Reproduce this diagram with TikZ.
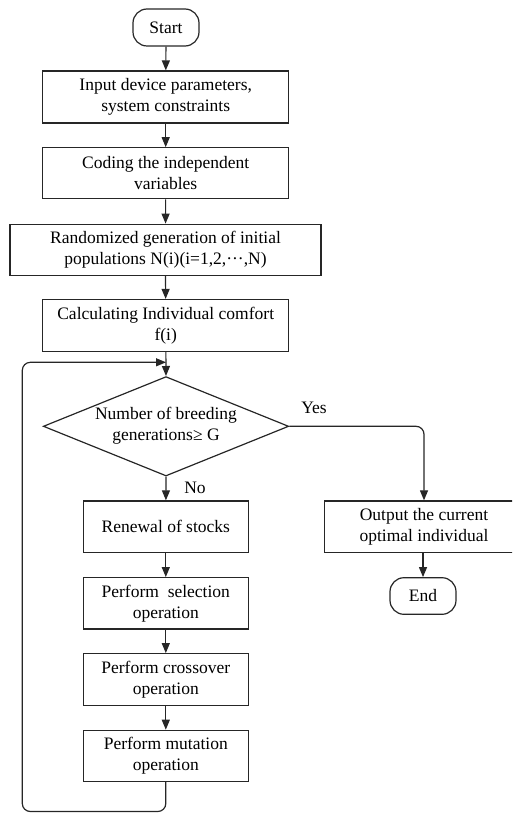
\documentclass[tikz,border=0pt]{standalone}
\usepackage{fontspec}
\setmainfont{Liberation Serif}
\usetikzlibrary{shapes.geometric,arrows.meta}
\tikzset{
  base/.style={draw=black!85, line width=1.2pt, font=\fontsize{17.5}{21}\selectfont, align=center, inner sep=0pt},
  box/.style={base, rectangle, minimum width=246pt, minimum height=52pt},
  term/.style={base, rectangle, rounded corners=14pt, minimum width=66pt, minimum height=37pt},
  conn/.style={draw=black!85, line width=1.2pt},
  arr/.style={conn, -{Triangle[length=10pt,width=8pt]}},
  lbl/.style={font=\fontsize{17.5}{21}\selectfont, inner sep=0pt}
}
\begin{document}
\begin{tikzpicture}[x=1pt,y=-1pt]
\clip (0,0) rectangle (512,813);
\useasboundingbox (0,0) rectangle (512,813);
\node[term] (start) at (166,27.5) {Start};
\node[box] (b1) at (165.7,97) {Input device parameters,\\system constraints};
\node[box, minimum height=51pt] (b2) at (165.7,173.3) {Coding the independent\\variables};
\node[box, minimum width=311pt, minimum height=51pt] (b3) at (165.5,249.7) {Randomized generation of initial\\populations N(i)(i=1,2,···,N)};
\node[box] (b4) at (165.7,325.5) {Calculating Individual comfort\\f(i)};
\node[base, diamond, minimum width=245.4pt, minimum height=99.4pt] (d) at (166,426.3) {};
\node[lbl, align=center] (dt) at (166,425.5) {Number of breeding\\generations≥ G};
\node[box, minimum width=165pt, minimum height=51.7pt] (r1) at (165.8,526.8) {Renewal of stocks};
\node[box, minimum width=165pt, minimum height=51.3pt] (r2) at (165.8,603.3) {Perform\ \ selection\\operation};
\node[box, minimum width=165pt, minimum height=51.6pt] (r3) at (165.8,679.5) {Perform crossover\\operation};
\node[box, minimum width=165pt, minimum height=51pt] (r4) at (165.8,755.8) {Perform mutation\\operation};
\node[box, minimum width=199.4pt, minimum height=51.7pt] (out) at (424,526.8) {Output the current\\optimal individual};
\node[term, minimum height=36.6pt] (end) at (423,596) {End};
\node[lbl] (yes) at (314,408) {Yes};
\node[lbl] (no) at (195,488) {No};
\coordinate (lb) at (22.3,811.5);
\coordinate (lt) at (166,362.3);
\draw[arr] (start) -- (b1);
\draw[arr] (b1) -- (b2);
\draw[arr] (b2) -- (b3);
\draw[arr] (b3) -- (b4);
\draw[arr] (b4) -- (d.north);
\draw[arr] (d.south) -- (r1);
\draw[arr] (r1) -- (r2);
\draw[arr] (r2) -- (r3);
\draw[arr] (r3) -- (r4);
\draw[arr, rounded corners=8pt] (d.east) -| (out.north);
\draw[arr] (out.south -| end) -- (end);
\draw[arr, rounded corners=8pt] (r4.south) |- (lb) |- (lt);
\end{tikzpicture}
\end{document}
